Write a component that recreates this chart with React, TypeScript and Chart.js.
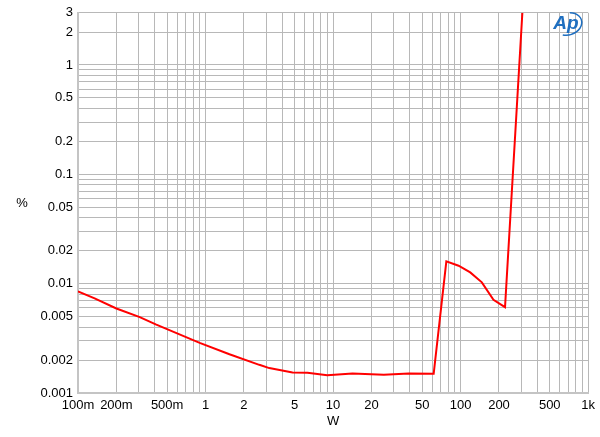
import React, { useEffect, useRef } from "react";
import { Chart, registerables } from "chart.js";

Chart.register(...registerables);

const powerW = [0.1, 0.135, 0.2, 0.305, 0.407, 0.9, 1.54, 2.64, 3.16, 4.81, 6.3, 9.0, 14.2, 25, 39.2, 61.5, 77.3, 96.4, 119, 146.7, 181, 223, 305];
const thdPct = [0.0085, 0.00734, 0.00593, 0.00494, 0.00424, 0.00287, 0.00226, 0.00181, 0.00169, 0.00154, 0.00153, 0.00145, 0.00151, 0.00147, 0.00151, 0.0015, 0.016, 0.0146, 0.01267, 0.01028, 0.00711, 0.0061, 3];

const xTickValues = [0.1, 0.2, 0.3, 0.4, 0.5, 0.6, 0.7, 0.8, 0.9, 1, 2, 3, 4, 5, 6, 7, 8, 9, 10, 20, 30, 40, 50, 60, 70, 80, 90, 100, 200, 300, 400, 500, 600, 700, 800, 900, 1000];
const xLabelValues = [0.1, 0.2, 0.5, 1, 2, 5, 10, 20, 50, 100, 200, 500, 1000];
const xLabelTexts = ["100m", "200m", "500m", "1", "2", "5", "10", "20", "50", "100", "200", "500", "1k"];

const yTickValues = [0.001, 0.002, 0.003, 0.004, 0.005, 0.006, 0.007, 0.008, 0.009, 0.01, 0.02, 0.03, 0.04, 0.05, 0.06, 0.07, 0.08, 0.09, 0.1, 0.2, 0.3, 0.4, 0.5, 0.6, 0.7, 0.8, 0.9, 1, 2, 3];
const yLabelValues = [0.001, 0.002, 0.005, 0.01, 0.02, 0.05, 0.1, 0.2, 0.5, 1, 2, 3];
const yLabelTexts = ["0.001", "0.002", "0.005", "0.01", "0.02", "0.05", "0.1", "0.2", "0.5", "1", "2", "3"];

const FONT = "'Liberation Sans', Arial, sans-serif";

function labelFor(v: number, vals: number[], texts: string[]) {
  for (let i = 0; i < vals.length; i++) {
    if (Math.abs(vals[i] - v) / vals[i] < 1e-6) return texts[i];
  }
  return "";
}

const decorPlugin = {
  id: "decor",
  afterDraw(chart: any) {
    const ctx = chart.ctx;
    const area = chart.chartArea;
    ctx.save();
    ctx.fillStyle = "#000";
    ctx.font = `13px ${FONT}`;
    ctx.textAlign = "center";
    ctx.textBaseline = "middle";
    ctx.fillText("%", 22, 203);
    ctx.fillText("W", (area.left + area.right) / 2, 421);
    // Ap logo
    ctx.fillStyle = "#1f6fc0";
    ctx.font = `italic bold 19px ${FONT}`;
    ctx.fillText("Ap", 566, 24);
    ctx.strokeStyle = "#1f6fc0";
    ctx.lineWidth = 1.5;
    ctx.beginPath();
    ctx.ellipse(568, 24, 14, 11, -0.3, -1.2, 2.2);
    ctx.stroke();
    ctx.restore();
  },
};

export default function App() {
  const ref = useRef<HTMLCanvasElement | null>(null);
  useEffect(() => {
    document.body.style.margin = "0";
    const canvas = ref.current!;
    const chart = new Chart(canvas, {
      type: "line",
      data: {
        datasets: [
          {
            data: powerW.map((x, i) => ({ x, y: thdPct[i] })),
            borderColor: "#ff0000",
            borderWidth: 2,
            pointRadius: 0,
            tension: 0,
            fill: false,
          },
        ],
      },
      options: {
        animation: false,
        responsive: false,
        maintainAspectRatio: false,
        layout: { padding: { top: 11, right: 10, left: 0, bottom: 0 } },
        plugins: { legend: { display: false }, tooltip: { enabled: false } },
        scales: {
          x: {
            type: "logarithmic",
            min: 0.1,
            max: 1000,
            afterBuildTicks: (s: any) => {
              s.ticks = xTickValues.map((v) => ({ value: v }));
            },
            afterFit: (s: any) => {
              s.height = 44;
            },
            grid: { color: "#b8b8b8", lineWidth: 1, drawTicks: false },
            border: { color: "#c4c4c4", width: 2 },
            ticks: {
              autoSkip: false,
              maxRotation: 0,
              padding: 5,
              color: "#000",
              font: { family: FONT, size: 13 },
              callback: (v: any) => labelFor(Number(v), xLabelValues, xLabelTexts),
            },
          },
          y: {
            type: "logarithmic",
            min: 0.001,
            max: 3,
            afterBuildTicks: (s: any) => {
              s.ticks = yTickValues.map((v) => ({ value: v }));
            },
            afterFit: (s: any) => {
              s.width = 78;
            },
            grid: { color: "#b8b8b8", lineWidth: 1, drawTicks: false },
            border: { color: "#c4c4c4", width: 2 },
            ticks: {
              autoSkip: false,
              padding: 5,
              color: "#000",
              font: { family: FONT, size: 13 },
              callback: (v: any) => labelFor(Number(v), yLabelValues, yLabelTexts),
            },
          },
        },
      },
      plugins: [decorPlugin],
    } as any);
    return () => chart.destroy();
  }, []);
  return (
    <div style={{ width: 600, height: 437, background: "#fff" }}>
      <canvas ref={ref} width={600} height={437} style={{ display: "block" }} />
    </div>
  );
}
